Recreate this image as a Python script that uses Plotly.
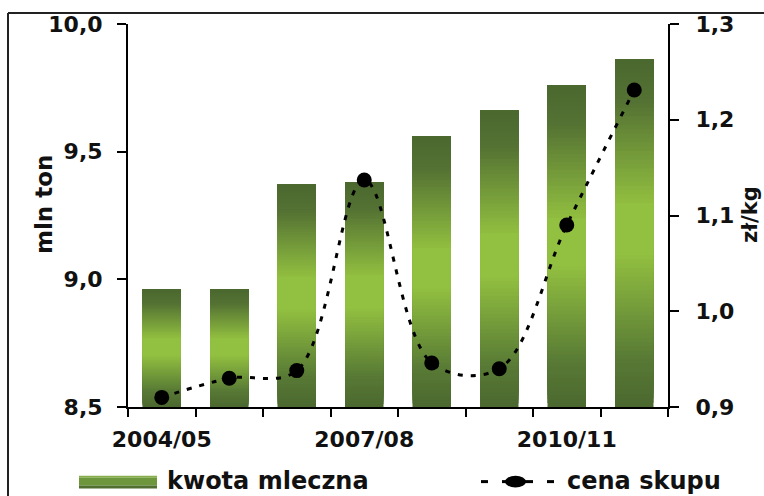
import plotly.graph_objects as go

# ---- data ----
seasons = ["2004/05", "2005/06", "2006/07", "2007/08", "2008/09", "2009/10", "2010/11", "2011/12"]
kwota_mleczna = [8.96, 8.96, 9.37, 9.38, 9.56, 9.66, 9.76, 9.86]   # mln ton
cena_skupu = [0.91, 0.93, 0.938, 1.137, 0.946, 0.940, 1.090, 1.231]  # zł/kg
left_range = [8.5, 10.0]
right_range = [0.9, 1.3]
label_idx = [0, 3, 6]

W, H = 764, 496
L, R, T, B = 128, 668, 22, 407

def px_x(px):
    return (px - L) / (R - L)

def px_y(py):
    return (B - py) / (B - T)

FONT = "DejaVu Sans"
xs = list(range(len(seasons)))

# gradient stops (fraction from top of bar -> rgb)
stops = [(0.0, (75, 104, 47)), (0.12, (84, 114, 51)), (0.42, (146, 192, 64)),
         (0.56, (146, 192, 64)), (0.86, (88, 122, 53)), (1.0, (75, 104, 47))]

def grad(f):
    for (a, ca), (b, cb) in zip(stops[:-1], stops[1:]):
        if a <= f <= b:
            t = (f - a) / (b - a) if b > a else 0
            c = [round(ca[i] + (cb[i] - ca[i]) * t) for i in range(3)]
            return "rgb(%d,%d,%d)" % tuple(c)
    return "rgb(%d,%d,%d)" % stops[-1][1]

fig = go.Figure()
N = 80
base0 = left_range[0]
for k in range(N):
    seg = [(v - base0) / N for v in kwota_mleczna]
    bases = [base0 + k * s for s in seg]
    # each segment reaches to the bar top; later segments cover it, so no seams show
    heights = [(v - b) for v, b in zip(kwota_mleczna, bases)]
    f = 1 - (k + 0.5) / N
    fig.add_trace(go.Bar(x=xs, y=heights, base=bases, width=0.57,
                         marker=dict(color=grad(f), line=dict(width=0)),
                         showlegend=False, hoverinfo="skip"))

fig.add_trace(go.Scatter(x=xs, y=cena_skupu, yaxis="y2", mode="lines+markers",
                         line=dict(color="black", width=3, dash="5px,8px", shape="spline"),
                         marker=dict(color="black", size=15), showlegend=False))

tickfont = dict(family=FONT, size=22, color="#111", weight="bold")

shapes = []
# document frame lines
shapes.append(dict(type="line", xref="paper", yref="paper", x0=px_x(8), x1=px_x(770),
                   y0=px_y(11), y1=px_y(11), line=dict(color="#222", width=2)))
shapes.append(dict(type="line", xref="paper", yref="paper", x0=px_x(8), x1=px_x(8),
                   y0=px_y(11), y1=px_y(500), line=dict(color="#222", width=2)))
# legend swatch (bars)
bands = [(476, 478, "#86ae4a"), (478, 486, "#6e963c"), (486, 489, "#4f6e30")]
for y0, y1, c in bands:
    shapes.append(dict(type="rect", xref="paper", yref="paper", x0=px_x(79), x1=px_x(157),
                       y0=px_y(y1), y1=px_y(y0), fillcolor=c, line=dict(width=0)))
# legend line symbol
for a, b in [(481, 488), (502, 533), (547, 554)]:
    shapes.append(dict(type="line", xref="paper", yref="paper", x0=px_x(a), x1=px_x(b),
                       y0=px_y(482), y1=px_y(482), line=dict(color="black", width=3)))
shapes.append(dict(type="circle", xref="paper", yref="paper", x0=px_x(505), x1=px_x(526),
                   y0=px_y(488), y1=px_y(476), fillcolor="black", line=dict(width=0)))

legfont = dict(family=FONT, size=24, color="#111", weight="bold")
annotations = [
    dict(text="kwota mleczna", xref="paper", yref="paper", x=px_x(165), y=px_y(481),
         xanchor="left", yanchor="middle", showarrow=False, font=legfont),
    dict(text="cena skupu", xref="paper", yref="paper", x=px_x(565), y=px_y(481),
         xanchor="left", yanchor="middle", showarrow=False, font=legfont),
    dict(text="mln ton", xref="paper", yref="paper", x=px_x(44), y=px_y(204),
         textangle=-90, showarrow=False, xanchor="center", yanchor="middle",
         font=dict(family=FONT, size=23, color="#111", weight="bold")),
    dict(text="zł/kg", xref="paper", yref="paper", x=px_x(750), y=px_y(214),
         textangle=-90, showarrow=False, xanchor="center", yanchor="middle",
         font=dict(family=FONT, size=21, color="#111", weight="bold")),
]

fig.update_layout(
    width=W, height=H,
    margin=dict(l=L, r=W - R, t=T, b=H - B, pad=0),
    paper_bgcolor="white", plot_bgcolor="white",
    separators=", ",
    barmode="overlay",
    showlegend=False,
    xaxis=dict(range=[-0.5, len(seasons) - 0.5], tickmode="array",
               tickvals=label_idx, ticktext=[seasons[i] for i in label_idx],
               ticks="", showline=True, linecolor="black", linewidth=2,
               showgrid=False, zeroline=False, tickfont=tickfont, ticklabelstandoff=12,
               minor=dict(tickmode="linear", tick0=-0.5, dtick=1, ticks="outside",
                          ticklen=8, tickwidth=2, tickcolor="black", showgrid=False)),
    yaxis=dict(range=left_range, dtick=0.5, tickformat=".1f", ticks="outside",
               ticklen=9, tickwidth=2, tickcolor="black", showline=True,
               linecolor="black", linewidth=2, showgrid=False, zeroline=False,
               tickfont=tickfont, ticklabelstandoff=10),
    yaxis2=dict(range=right_range, dtick=0.1, tickformat=".1f", overlaying="y",
                side="right", ticks="outside", ticklen=9, tickwidth=2,
                tickcolor="black", showline=True, linecolor="black", linewidth=2,
                showgrid=False, zeroline=False, tickfont=tickfont, ticklabelstandoff=12),
    shapes=shapes,
    annotations=annotations,
)

fig.write_html("out.html")
